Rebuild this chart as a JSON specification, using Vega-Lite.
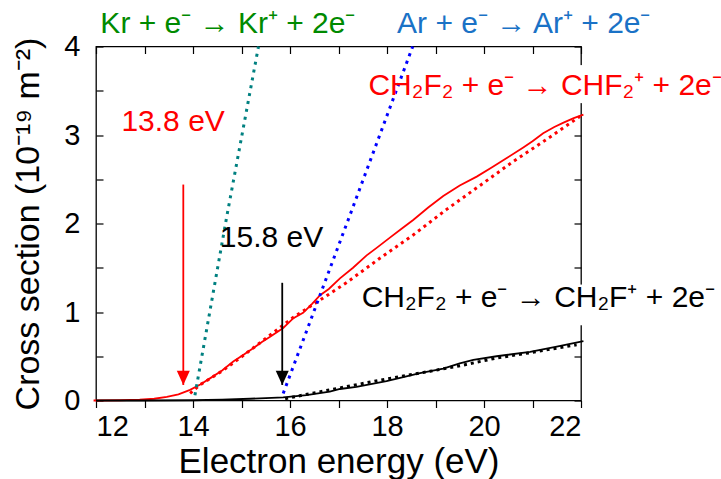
{
  "$schema": "https://vega.github.io/schema/vega-lite/v6.json",
  "width": 485,
  "height": 354,
  "autosize": {"type": "none"},
  "padding": {"left": 96, "top": 46.5, "right": 140, "bottom": 78.5},
  "config": {
    "view": {"stroke": "#000000", "strokeWidth": 1.3},
    "font": "Liberation Sans",
    "axis": {
      "domain": false,
      "grid": false,
      "tickColor": "#000000",
      "tickWidth": 1.2,
      "labelColor": "#000000",
      "titleColor": "#000000",
      "labelFont": "Liberation Sans",
      "titleFont": "Liberation Sans",
      "labelFontSize": 29,
      "titleFontSize": 35,
      "titleFontWeight": "normal"
    }
  },
  "datasets": {
    "chf2_meas": [
      {"E": 11.95, "s": 0}, {"E": 12.5, "s": 0.003}, {"E": 12.9, "s": 0.01}, {"E": 13.2, "s": 0.02},
      {"E": 13.46, "s": 0.04}, {"E": 13.7, "s": 0.07}, {"E": 13.94, "s": 0.12}, {"E": 14.15, "s": 0.18},
      {"E": 14.35, "s": 0.25}, {"E": 14.6, "s": 0.34}, {"E": 14.83, "s": 0.44}, {"E": 15.05, "s": 0.52},
      {"E": 15.24, "s": 0.59}, {"E": 15.42, "s": 0.66}, {"E": 15.59, "s": 0.72}, {"E": 15.86, "s": 0.82},
      {"E": 16.07, "s": 0.93}, {"E": 16.27, "s": 0.99}, {"E": 16.45, "s": 1.09}, {"E": 16.62, "s": 1.19},
      {"E": 16.8, "s": 1.26}, {"E": 17.03, "s": 1.38}, {"E": 17.3, "s": 1.5}, {"E": 17.58, "s": 1.64},
      {"E": 17.8, "s": 1.73}, {"E": 18.06, "s": 1.84}, {"E": 18.3, "s": 1.94}, {"E": 18.54, "s": 2.04},
      {"E": 18.85, "s": 2.18}, {"E": 19.16, "s": 2.31}, {"E": 19.5, "s": 2.43}, {"E": 19.85, "s": 2.53},
      {"E": 20.15, "s": 2.63}, {"E": 20.47, "s": 2.74}, {"E": 20.81, "s": 2.86}, {"E": 21.0, "s": 2.93},
      {"E": 21.22, "s": 3.02}, {"E": 21.45, "s": 3.09}, {"E": 21.64, "s": 3.14}, {"E": 21.85, "s": 3.19},
      {"E": 22.05, "s": 3.23}
    ],
    "chf2_fit": [
      {"E": 13.94, "s": 0.08}, {"E": 14.14, "s": 0.175}, {"E": 14.62, "s": 0.34}, {"E": 15.04, "s": 0.51},
      {"E": 15.45, "s": 0.68}, {"E": 16.07, "s": 0.94}, {"E": 16.69, "s": 1.16}, {"E": 17.16, "s": 1.33},
      {"E": 17.86, "s": 1.61}, {"E": 18.54, "s": 1.87}, {"E": 19.23, "s": 2.16}, {"E": 19.92, "s": 2.43},
      {"E": 20.6, "s": 2.7}, {"E": 21.29, "s": 2.95}, {"E": 21.98, "s": 3.21}
    ],
    "ch2f_meas": [
      {"E": 12.0, "s": 0}, {"E": 13.0, "s": 0}, {"E": 14.0, "s": 0.003}, {"E": 14.6, "s": 0.01},
      {"E": 15.18, "s": 0.02}, {"E": 15.86, "s": 0.035}, {"E": 16.34, "s": 0.06}, {"E": 16.82, "s": 0.1},
      {"E": 17.03, "s": 0.13}, {"E": 17.37, "s": 0.155}, {"E": 17.99, "s": 0.22}, {"E": 18.68, "s": 0.31},
      {"E": 19.16, "s": 0.36}, {"E": 19.5, "s": 0.42}, {"E": 19.78, "s": 0.46}, {"E": 20.26, "s": 0.5},
      {"E": 20.95, "s": 0.55}, {"E": 21.5, "s": 0.61}, {"E": 22.05, "s": 0.67}
    ],
    "ch2f_fit": [
      {"E": 15.9, "s": 0.02}, {"E": 16.3, "s": 0.065}, {"E": 16.82, "s": 0.12}, {"E": 17.86, "s": 0.23},
      {"E": 18.89, "s": 0.33}, {"E": 19.57, "s": 0.4}, {"E": 20.26, "s": 0.48}, {"E": 20.95, "s": 0.54},
      {"E": 21.91, "s": 0.63}
    ],
    "kr": [{"E": 14.04, "s": 0.06}, {"E": 14.69, "s": 2.06}, {"E": 15.35, "s": 4.0}],
    "ar": [{"E": 15.86, "s": 0.08}, {"E": 17.24, "s": 2.1}, {"E": 18.53, "s": 4.0}],
    "arrows": [
      {"E": 13.8, "top": 2.44, "tip": 0.175, "grp": "CHF2"},
      {"E": 15.84, "top": 1.33, "tip": 0.175, "grp": "CH2F"}
    ],
    "boxes": [
      {"E1": 21.8, "E2": 22.1, "s1": 3.36, "s2": 3.79},
      {"E1": 21.8, "E2": 22.1, "s1": 0.85, "s2": 1.31}
    ],
    "labels": [
      {"txt": "Kr + e⁻ → Kr⁺ + 2e⁻", "E": 14.72, "s": 4.15, "grp": "Kr"},
      {"txt": "Ar + e⁻ → Ar⁺ + 2e⁻", "E": 20.82, "s": 4.15, "grp": "Ar"},
      {"txt": "CH₂F₂ + e⁻ → CHF₂⁺ + 2e⁻", "E": 21.26, "s": 3.454, "grp": "CHF2"},
      {"txt": "CH₂F₂ + e⁻ → CH₂F⁺ + 2e⁻", "E": 21.12, "s": 1.06, "grp": "CH2F"},
      {"txt": "13.8 eV", "E": 13.59, "s": 3.04, "grp": "CHF2"},
      {"txt": "15.8 eV", "E": 15.62, "s": 1.74, "grp": "CH2F"}
    ]
  },
  "layer": [
    {
      "data": {"name": "chf2_meas"},
      "mark": {"type": "line", "color": "#ff0000", "strokeWidth": 1.8, "clip": false},
      "encoding": {
        "x": {
          "field": "E", "type": "quantitative",
          "scale": {"domain": [12, 22], "nice": false, "zero": false},
          "axis": {
            "orient": "bottom",
            "values": [12, 13, 14, 15, 16, 17, 18, 19, 20, 21, 22],
            "labelExpr": "datum.value % 2 === 0 ? '' + datum.value : ''",
            "tickSize": 7,
            "labelPadding": 5,
            "title": "Electron energy (eV)",
            "titlePadding": 3
          }
        },
        "y": {
          "field": "s", "type": "quantitative",
          "scale": {"domain": [0, 4], "nice": false},
          "axis": {
            "orient": "left",
            "values": [0, 0.5, 1, 1.5, 2, 2.5, 3, 3.5, 4],
            "labelExpr": "datum.value % 1 === 0 ? '' + datum.value : ''",
            "tickSize": -7,
            "labelPadding": 23,
            "title": "Cross section (10⁻¹⁹ m⁻²)",
            "titleFontSize": 34,
            "titlePadding": 18
          }
        }
      }
    },
    {
      "data": {"name": "chf2_fit"},
      "mark": {"type": "line", "color": "#ff0000", "strokeWidth": 3, "strokeDash": [3, 4]},
      "encoding": {
        "x": {
          "field": "E", "type": "quantitative",
          "axis": {
            "orient": "top",
            "values": [12, 13, 14, 15, 16, 17, 18, 19, 20, 21, 22],
            "labels": false, "tickSize": -7, "title": null
          }
        },
        "y": {
          "field": "s", "type": "quantitative",
          "axis": {
            "orient": "right",
            "values": [0, 0.5, 1, 1.5, 2, 2.5, 3, 3.5, 4],
            "labels": false, "tickSize": -7, "title": null
          }
        }
      }
    },
    {
      "data": {"name": "ch2f_fit"},
      "mark": {"type": "line", "color": "#000000", "strokeWidth": 3, "strokeDash": [3, 4]},
      "encoding": {
        "x": {"field": "E", "type": "quantitative", "axis": null},
        "y": {"field": "s", "type": "quantitative", "axis": null}
      }
    },
    {
      "data": {"name": "ch2f_meas"},
      "mark": {"type": "line", "color": "#000000", "strokeWidth": 1.8, "clip": false},
      "encoding": {
        "x": {"field": "E", "type": "quantitative", "axis": null},
        "y": {"field": "s", "type": "quantitative", "axis": null}
      }
    },
    {
      "data": {"name": "kr"},
      "mark": {"type": "line", "color": "#008080", "strokeWidth": 3, "strokeDash": [3, 5]},
      "encoding": {
        "x": {"field": "E", "type": "quantitative", "axis": null},
        "y": {"field": "s", "type": "quantitative", "axis": null}
      }
    },
    {
      "data": {"name": "ar"},
      "mark": {"type": "line", "color": "#0000ff", "strokeWidth": 3, "strokeDash": [3, 5]},
      "encoding": {
        "x": {"field": "E", "type": "quantitative", "axis": null},
        "y": {"field": "s", "type": "quantitative", "axis": null}
      }
    },
    {
      "data": {"name": "arrows"},
      "mark": {"type": "rule", "strokeWidth": 1.8},
      "encoding": {
        "x": {"field": "E", "type": "quantitative", "axis": null},
        "y": {"field": "top", "type": "quantitative", "axis": null},
        "y2": {"field": "tip"},
        "color": {"field": "grp", "type": "nominal", "legend": null,
          "scale": {"domain": ["CHF2", "CH2F", "Kr", "Ar"], "range": ["#ff0000", "#000000", "#008a00", "#1a72c6"]}}
      }
    },
    {
      "data": {"name": "arrows"},
      "mark": {"type": "point", "filled": true, "opacity": 1, "size": 170, "shape": "M-1,-2.2L1,-2.2L0,0Z"},
      "encoding": {
        "x": {"field": "E", "type": "quantitative", "axis": null},
        "y": {"field": "tip", "type": "quantitative", "axis": null},
        "color": {"field": "grp", "type": "nominal", "legend": null,
          "scale": {"domain": ["CHF2", "CH2F", "Kr", "Ar"], "range": ["#ff0000", "#000000", "#008a00", "#1a72c6"]}}
      }
    },
    {
      "data": {"name": "boxes"},
      "mark": {"type": "rect", "fill": "#ffffff", "stroke": null, "clip": false},
      "encoding": {
        "x": {"field": "E1", "type": "quantitative", "axis": null},
        "x2": {"field": "E2"},
        "y": {"field": "s1", "type": "quantitative", "axis": null},
        "y2": {"field": "s2"}
      }
    },
    {
      "data": {"name": "labels"},
      "mark": {"type": "text", "fontSize": 30, "font": "Liberation Sans", "align": "center", "baseline": "alphabetic"},
      "encoding": {
        "x": {"field": "E", "type": "quantitative", "axis": null},
        "y": {"field": "s", "type": "quantitative", "axis": null},
        "text": {"field": "txt"},
        "color": {"field": "grp", "type": "nominal", "legend": null,
          "scale": {"domain": ["CHF2", "CH2F", "Kr", "Ar"], "range": ["#ff0000", "#000000", "#008a00", "#1a72c6"]}}
      }
    }
  ],
  "resolve": {"axis": {"x": "independent", "y": "independent"}}
}
